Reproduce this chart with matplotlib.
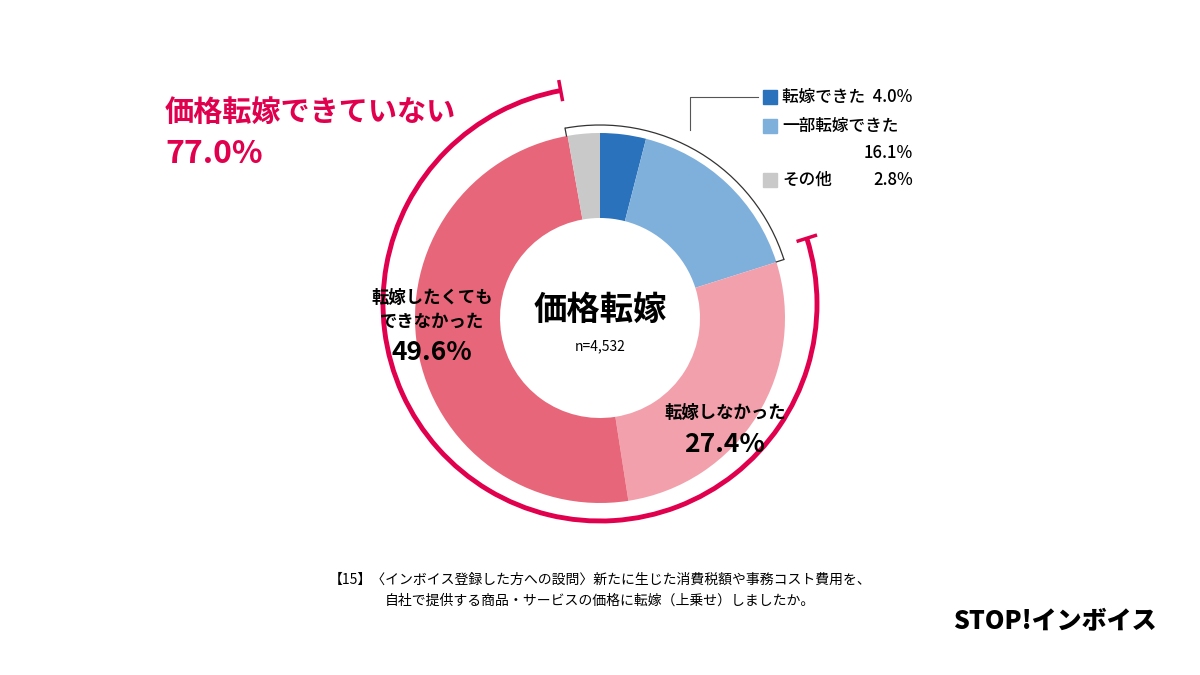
import matplotlib.pyplot as plt
from matplotlib.patches import Arc
import numpy as np

plt.rcParams['font.family'] = ['Noto Sans CJK JP', 'DejaVu Sans']

labels = ["転嫁できた", "一部転嫁できた", "転嫁しなかった", "転嫁したくても\nできなかった", "その他"]
values = [4.0, 16.1, 27.4, 49.6, 2.8]
colors = ["#2a72bc", "#7fb0dc", "#f2a1ac", "#e8667a", "#c9c9c9"]
not_passed = 77.0
n_total = "n=4,532"

fig = plt.figure(figsize=(12, 6.75), dpi=100)
ax = fig.add_axes([0, 0, 1, 1])

cx, cy = 600, 357
ax.pie(values, colors=colors, center=(cx, cy), radius=185, startangle=90,
       counterclock=False, wedgeprops=dict(width=85, linewidth=0))
ax.set_xlim(0, 1200)
ax.set_ylim(0, 675)
ax.set_aspect('equal')
ax.axis('off')

# angles
a_blue_end = 90 - (values[0] + values[1]) * 3.6
a_red_end = a_blue_end - (values[2] + values[3]) * 3.6 + 360
red = "#e0004d"
R = 217
rcx, rcy = 600, 371
ax.add_patch(Arc((rcx, rcy), 2 * R, 2 * R, theta1=a_red_end - 360, theta2=a_blue_end,
                 color=red, lw=3.5))
for a in (a_blue_end, a_red_end):
    t = np.radians(a)
    ax.plot([rcx + (R - 9) * np.cos(t), rcx + (R + 9) * np.cos(t)],
            [rcy + (R - 9) * np.sin(t), rcy + (R + 9) * np.sin(t)], color=red, lw=2.5)

Rb = 193
ax.add_patch(Arc((cx, cy), 2 * Rb, 2 * Rb, theta1=a_blue_end, theta2=a_red_end,
                 color="#333333", lw=0.9))
for a in (a_blue_end, a_red_end):
    t = np.radians(a)
    ax.plot([cx + 185 * np.cos(t), cx + Rb * np.cos(t)],
            [cy + 185 * np.sin(t), cy + Rb * np.sin(t)], color="#333333", lw=0.9)

# leader line to legend
ax.plot([690, 690, 758], [545, 578, 578], color="#555555", lw=0.8)

# legend
leg = [(0, 578, f"{labels[0]}  {values[0]:.1f}%"), (1, 549, labels[1]), (4, 495, labels[4])]
for i, y, txt in leg:
    ax.add_patch(plt.Rectangle((763, y - 7), 14, 14, color=colors[i]))
    ax.text(782, y, txt, fontsize=12, va='center', ha='left', fontweight='medium')
ax.text(913, 522, f"{values[1]:.1f}%", fontsize=12, va='center', ha='right', fontweight='medium')
ax.text(913, 495, f"{values[4]:.1f}%", fontsize=12, va='center', ha='right', fontweight='medium')

# center
ax.text(cx, cy + 8, "価格転嫁", fontsize=24, fontweight='bold', ha='center', va='center')
ax.text(cx, cy - 28, n_total, fontsize=10, ha='center', va='center')

# slice labels
ax.text(432, 365, labels[3], fontsize=12.5, ha='center', va='center', linespacing=1.4, fontweight='bold')
ax.text(432, 322, f"{values[3]:.1f}%", fontsize=19, fontweight='bold', ha='center', va='center')
ax.text(725, 262, labels[2], fontsize=12.5, ha='center', va='center', fontweight='bold')
ax.text(725, 230, f"{values[2]:.1f}%", fontsize=19, fontweight='bold', ha='center', va='center')

ax.text(165, 563, "価格転嫁できていない", fontsize=21, fontweight='bold', color=red, va='center')
ax.text(165, 521, f"{not_passed:.1f}%", fontsize=23, fontweight='bold', color=red, va='center')

ax.text(600, 85, "【15】〈インボイス登録した方への設問〉新たに生じた消費税額や事務コスト費用を、\n自社で提供する商品・サービスの価格に転嫁（上乗せ）しましたか。",
        fontsize=10, ha='center', va='center', linespacing=1.6)
ax.text(1055, 55, "STOP!インボイス", fontsize=18, fontweight='heavy', ha='center', va='center')

fig.savefig("out.png", dpi=100)
